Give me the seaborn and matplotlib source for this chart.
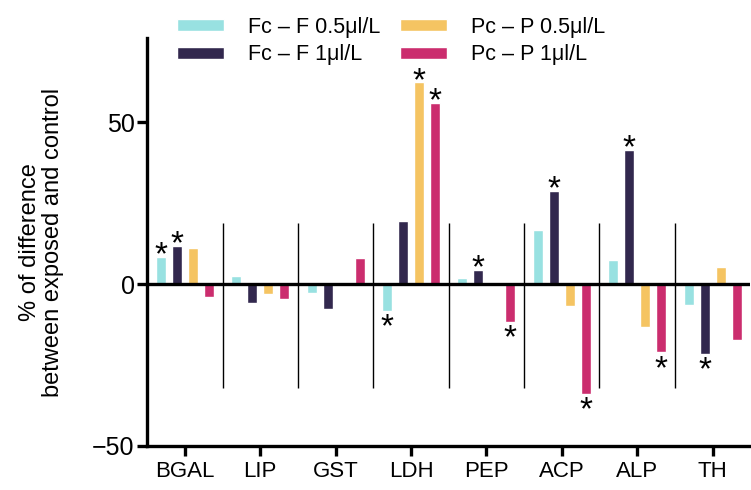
import numpy as np
import pandas as pd
import seaborn as sns
import matplotlib.pyplot as plt

sns.set_style("white")
plt.rcParams['font.family'] = ['Liberation Sans', 'DejaVu Sans']
plt.rcParams['text.color'] = 'black'
plt.rcParams['axes.labelcolor'] = 'black'
plt.rcParams['xtick.color'] = 'black'
plt.rcParams['ytick.color'] = 'black'

enzymes = ["BGAL", "LIP", "GST", "LDH", "PEP", "ACP", "ALP", "TH"]
series = ["Fc \u2013 F 0.5\u03bcl/L", "Fc \u2013 F 1\u03bcl/L",
          "Pc \u2013 P 0.5\u03bcl/L", "Pc \u2013 P 1\u03bcl/L"]

fc_f_05 = [8.4, 2.4, -2.7, -8.3, 1.8, 16.6, 7.4, -6.4]
fc_f_1 = [11.8, -5.8, -7.6, 19.5, 4.4, 28.9, 41.6, -21.6]
pc_p_05 = [11.1, -2.9, 0.0, 62.4, 0.0, -6.8, -13.3, 5.2]
pc_p_1 = [-3.9, -4.7, 8.2, 56.0, -11.6, -34.0, -21.1, -17.3]

# significance marks (*)
sig_fc_f_05 = [1, 0, 0, 1, 0, 0, 0, 0]
sig_fc_f_1 = [1, 0, 0, 0, 1, 1, 1, 1]
sig_pc_p_05 = [0, 0, 0, 1, 0, 0, 0, 0]
sig_pc_p_1 = [0, 0, 0, 1, 1, 1, 1, 0]

colors = ["#98e1e1", "#32284e", "#f5c462", "#cb2d6e"]

values = [fc_f_05, fc_f_1, pc_p_05, pc_p_1]
sigs = [sig_fc_f_05, sig_fc_f_1, sig_pc_p_05, sig_pc_p_1]

df = pd.DataFrame({
    "enzyme": enzymes * 4,
    "group": np.repeat(series, len(enzymes)),
    "value": np.concatenate(values),
})

fig = plt.figure(figsize=(7.51, 4.90), dpi=100)
ax = fig.add_axes([0.196, 0.090, 0.803, 0.832])

sns.barplot(data=df, x="enzyme", y="value", hue="group", order=enzymes,
            hue_order=series, palette=colors, width=0.85, gap=0.375,
            saturation=1, ax=ax, legend=True)

# asterisks on significant bars
for cont, sig in zip(ax.containers, sigs):
    for bar, s in zip(cont, sig):
        if not s:
            continue
        xc = bar.get_x() + bar.get_width() / 2
        h = bar.get_y() + bar.get_height()
        if h >= 0:
            ax.annotate("*", (xc, h), xytext=(0, -10.5), textcoords="offset points",
                        ha="center", va="bottom", fontsize=24, color="black")
        else:
            ax.annotate("*", (xc, h), xytext=(0, -1), textcoords="offset points",
                        ha="center", va="top", fontsize=24, color="black")

ax.axhline(0, color="black", lw=2.4, zorder=3)
ax.vlines(np.arange(len(enzymes) - 1) + 0.5, -32, 19, color="black", lw=1)

ax.set_xlim(-0.5, 7.5)
ax.set_ylim(-50, 76)
ax.set_yticks([-50, 0, 50])
ax.set_yticklabels(["\u221250", "0", "50"])
ax.set_xlabel("")
ax.set_ylabel("% of difference\nbetween exposed and control", fontsize=17,
              labelpad=20, linespacing=1.1)

sns.despine(ax=ax)
for side in ["left", "bottom"]:
    ax.spines[side].set_linewidth(2.4)
    ax.spines[side].set_color("black")
ax.tick_params(axis="both", length=7, width=2.4, color="black", left=True,
               bottom=True)
ax.tick_params(axis="y", labelsize=18, pad=2)
ax.tick_params(axis="x", labelsize=16, pad=4)

handles, labels = ax.get_legend_handles_labels()
ax.legend(handles, labels, ncol=2, frameon=False, fontsize=15.5,
          loc="upper left", bbox_to_anchor=(0.21, 1.005),
          bbox_transform=fig.transFigure, handlelength=2.2, handleheight=0.5,
          handletextpad=1.1, columnspacing=0.9, labelspacing=0.3)

fig.savefig("out.png", dpi=100)
